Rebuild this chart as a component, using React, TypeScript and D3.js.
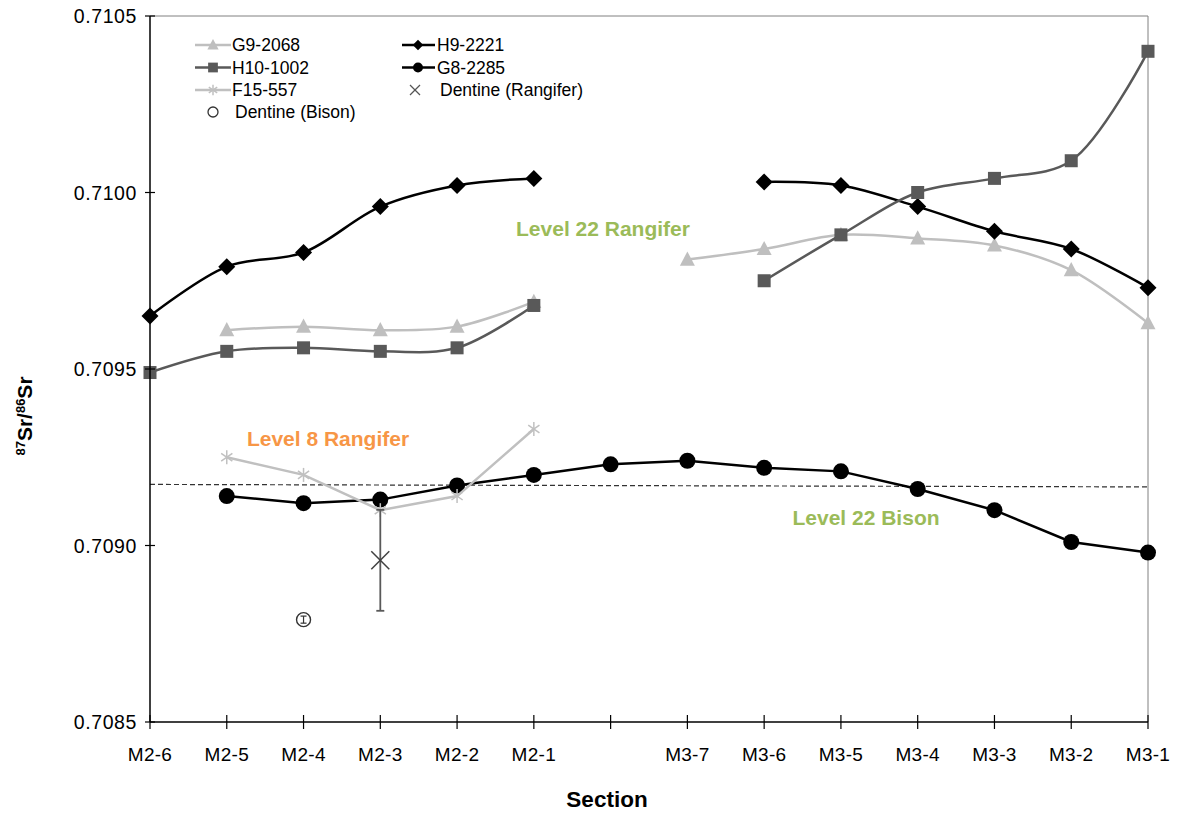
import React from 'react';
import * as d3 from 'd3';

// ---------- data ----------
const categories = ['M2-6', 'M2-5', 'M2-4', 'M2-3', 'M2-2', 'M2-1', ' ', 'M3-7', 'M3-6', 'M3-5', 'M3-4', 'M3-3', 'M3-2', 'M3-1'];
const g9_2068 = [null, 0.70961, 0.70962, 0.70961, 0.70962, 0.70969, null, 0.70981, 0.70984, 0.70988, 0.70987, 0.70985, 0.70978, 0.70963];
const h9_2221 = [0.70965, 0.70979, 0.70983, 0.70996, 0.71002, 0.71004, null, null, 0.71003, 0.71002, 0.70996, 0.70989, 0.70984, 0.70973];
const h10_1002 = [0.70949, 0.70955, 0.70956, 0.70955, 0.70956, 0.70968, null, null, 0.70975, 0.70988, 0.71000, 0.71004, 0.71009, 0.71040];
const g8_2285 = [null, 0.70914, 0.70912, 0.70913, 0.70917, 0.70920, 0.70923, 0.70924, 0.70922, 0.70921, 0.70916, 0.70910, 0.70901, 0.70898];
const f15_557 = [null, 0.70925, 0.70920, 0.70910, 0.70914, 0.70933, null, null, null, null, null, null, null, null];
const dentineBisonCat = 'M2-4';
const dentineBisonValue = 0.70879;
const dentineBisonErr = 0.00001;
const dentineRangiferCat = 'M2-3';
const dentineRangiferValue = 0.708958;
const dentineRangiferErr = 0.000143;
const bisonMeanLine = [0.709173, 0.709166];
const yTicks = [0.7085, 0.709, 0.7095, 0.71, 0.7105];

const FONT = '"Liberation Sans", Arial, sans-serif';

type Marker = 'triangle' | 'square' | 'asterisk' | 'diamond' | 'circle';

function MarkerShape({ type, x, y, size, color }: { type: Marker; x: number; y: number; size: number; color: string }) {
  const s = size;
  if (type === 'triangle') {
    const h = s * 0.9;
    return <path d={`M${x},${y - h * 0.6} L${x + s / 2},${y + h * 0.45} L${x - s / 2},${y + h * 0.45} Z`} fill={color} />;
  }
  if (type === 'square') {
    return <rect x={x - s / 2} y={y - s / 2} width={s} height={s} fill={color} />;
  }
  if (type === 'diamond') {
    return <path d={`M${x},${y - s / 2} L${x + s / 2},${y} L${x},${y + s / 2} L${x - s / 2},${y} Z`} fill={color} />;
  }
  if (type === 'circle') {
    return <circle cx={x} cy={y} r={s / 2} fill={color} />;
  }
  const r = s / 2;
  const d = r * 0.8;
  return (
    <g stroke={color} strokeWidth={1.5}>
      <line x1={x} y1={y - r} x2={x} y2={y + r} />
      <line x1={x - d} y1={y - d * 0.7} x2={x + d} y2={y + d * 0.7} />
      <line x1={x - d} y1={y + d * 0.7} x2={x + d} y2={y - d * 0.7} />
    </g>
  );
}

export default function App() {
  const width = 1183;
  const height = 814;
  const left = 150;
  const right = 1148;
  const top = 16;
  const bottom = 722;

  const x = d3.scalePoint<string>().domain(categories).range([left, right]);
  const y = d3.scaleLinear().domain([0.7085, 0.7105]).range([bottom, top]);

  const series: { name: string; values: (number | null)[]; color: string; marker: Marker; size: number; smooth: boolean; width: number }[] = [
    { name: 'G9-2068', values: g9_2068, color: '#bfbfbf', marker: 'triangle', size: 15, smooth: true, width: 2.5 },
    { name: 'H9-2221', values: h9_2221, color: '#000000', marker: 'diamond', size: 17, smooth: true, width: 2.5 },
    { name: 'H10-1002', values: h10_1002, color: '#595959', marker: 'square', size: 13, smooth: true, width: 2.5 },
    { name: 'G8-2285', values: g8_2285, color: '#000000', marker: 'circle', size: 16, smooth: false, width: 2.5 },
    { name: 'F15-557', values: f15_557, color: '#c0c0c0', marker: 'asterisk', size: 14, smooth: false, width: 2.5 },
  ];

  const mkLine = (smooth: boolean) =>
    d3
      .line<number | null>()
      .defined((d) => d !== null)
      .x((_, i) => x(categories[i]) as number)
      .y((d) => y(d as number))
      .curve(smooth ? d3.curveCatmullRom.alpha(0.5) : d3.curveLinear);

  const legendCol1 = [
    { name: 'G9-2068', s: series[0] },
    { name: 'H10-1002', s: series[2] },
    { name: 'F15-557', s: series[4] },
  ];
  const legendCol2 = [
    { name: 'H9-2221', s: series[1] },
    { name: 'G8-2285', s: series[3] },
  ];

  const rx = x(dentineRangiferCat) as number;
  const bx = x(dentineBisonCat) as number;
  const LFS = 17.5;

  return (
    <svg width={width} height={height} style={{ position: 'absolute', left: 0, top: 0, background: '#fff' }}>
      <rect x={0} y={0} width={width} height={height} fill="#fff" />
      {/* plot border */}
      <line x1={left} y1={top} x2={right} y2={top} stroke="#808080" strokeWidth={1} />
      <line x1={right} y1={top} x2={right} y2={bottom} stroke="#808080" strokeWidth={1} />

      {/* dashed reference line */}
      <line
        x1={x(categories[0])}
        x2={x(categories[categories.length - 1])}
        y1={y(bisonMeanLine[0])}
        y2={y(bisonMeanLine[1])}
        stroke="#333"
        strokeWidth={1.2}
        strokeDasharray="5,3"
      />

      {/* series */}
      {series.map((s) => (
        <g key={s.name}>
          <path d={mkLine(s.smooth)(s.values) || ''} fill="none" stroke={s.color} strokeWidth={s.width} />
          {s.values.map((v, i) =>
            v === null ? null : (
              <MarkerShape key={i} type={s.marker} x={x(categories[i]) as number} y={y(v)} size={s.size} color={s.color} />
            )
          )}
        </g>
      ))}

      {/* Dentine (Rangifer) with error bar */}
      <g stroke="#595959" strokeWidth={1.8}>
        <line x1={rx} x2={rx} y1={y(dentineRangiferValue + dentineRangiferErr)} y2={y(dentineRangiferValue - dentineRangiferErr)} />
        <line x1={rx - 4} x2={rx + 4} y1={y(dentineRangiferValue + dentineRangiferErr)} y2={y(dentineRangiferValue + dentineRangiferErr)} />
        <line x1={rx - 4} x2={rx + 4} y1={y(dentineRangiferValue - dentineRangiferErr)} y2={y(dentineRangiferValue - dentineRangiferErr)} />
        <line x1={rx - 9} x2={rx + 9} y1={y(dentineRangiferValue) - 9} y2={y(dentineRangiferValue) + 9} stroke="#404040" strokeWidth={1.5} />
        <line x1={rx - 9} x2={rx + 9} y1={y(dentineRangiferValue) + 9} y2={y(dentineRangiferValue) - 9} stroke="#404040" strokeWidth={1.5} />
      </g>

      {/* Dentine (Bison) with error bar */}
      <g stroke="#333" fill="none">
        <circle cx={bx} cy={y(dentineBisonValue)} r={7} strokeWidth={1.4} fill="#fff" />
        <line x1={bx} x2={bx} y1={y(dentineBisonValue + dentineBisonErr)} y2={y(dentineBisonValue - dentineBisonErr)} strokeWidth={1.2} />
        <line x1={bx - 3} x2={bx + 3} y1={y(dentineBisonValue + dentineBisonErr)} y2={y(dentineBisonValue + dentineBisonErr)} strokeWidth={1.2} />
        <line x1={bx - 3} x2={bx + 3} y1={y(dentineBisonValue - dentineBisonErr)} y2={y(dentineBisonValue - dentineBisonErr)} strokeWidth={1.2} />
      </g>

      {/* axes */}
      <line x1={left} y1={top} x2={left} y2={bottom} stroke="#000" strokeWidth={1.5} />
      <line x1={left} y1={bottom} x2={right} y2={bottom} stroke="#000" strokeWidth={1.5} />
      {yTicks.map((t) => (
        <g key={t}>
          <line x1={left - 5} x2={left + 5} y1={y(t)} y2={y(t)} stroke="#000" strokeWidth={1.2} />
          <text x={137} y={y(t)} dy="0.36em" textAnchor="end" fontFamily={FONT} fontSize={19.5} letterSpacing={0.6} fill="#000">
            {d3.format('.4f')(t)}
          </text>
        </g>
      ))}
      {categories.map((c) => (
        <g key={c}>
          <line x1={x(c)} x2={x(c)} y1={bottom - 7} y2={bottom + 7} stroke="#000" strokeWidth={1.2} />
          <text x={x(c)} y={761} textAnchor="middle" fontFamily={FONT} fontSize={19} letterSpacing={0.3} fill="#000">
            {c.trim()}
          </text>
        </g>
      ))}

      {/* axis titles */}
      <text x={607} y={807} textAnchor="middle" fontFamily={FONT} fontSize={22.5} fontWeight="bold">
        Section
      </text>
      <text transform="translate(32,416) rotate(-90)" textAnchor="middle" fontFamily={FONT} fontSize={21} fontWeight="bold">
        <tspan fontSize={13} dy={-7}>87</tspan>
        <tspan dy={7}>Sr/</tspan>
        <tspan fontSize={13} dy={-7}>86</tspan>
        <tspan dy={7}>Sr</tspan>
      </text>

      {/* annotations */}
      <text x={603} y={236} textAnchor="middle" fontFamily={FONT} fontSize={21} fontWeight="bold" fill="#9bbb59">
        Level 22 Rangifer
      </text>
      <text x={328} y={446} textAnchor="middle" fontFamily={FONT} fontSize={21} fontWeight="bold" fill="#f79646">
        Level 8 Rangifer
      </text>
      <text x={866} y={525} textAnchor="middle" fontFamily={FONT} fontSize={21} fontWeight="bold" fill="#9bbb59">
        Level 22 Bison
      </text>

      {/* legend */}
      {legendCol1.map((l, i) => {
        const ly = 45 + i * 22.5;
        return (
          <g key={l.name}>
            <line x1={195} x2={231} y1={ly} y2={ly} stroke={l.s.color} strokeWidth={2.5} />
            <MarkerShape type={l.s.marker} x={213} y={ly} size={l.s.size * 0.75} color={l.s.color} />
            <text x={232} y={ly} dy="0.36em" fontFamily={FONT} fontSize={LFS}>
              {l.name}
            </text>
          </g>
        );
      })}
      <g>
        <circle cx={213} cy={112} r={5} fill="none" stroke="#333" strokeWidth={1.3} />
        <text x={235} y={112} dy="0.36em" fontFamily={FONT} fontSize={LFS}>
          Dentine (Bison)
        </text>
      </g>
      {legendCol2.map((l, i) => {
        const ly = 45 + i * 22.5;
        return (
          <g key={l.name}>
            <line x1={402} x2={435} y1={ly} y2={ly} stroke={l.s.color} strokeWidth={2.5} />
            <MarkerShape type={l.s.marker} x={418} y={ly} size={l.s.size * 0.62} color={l.s.color} />
            <text x={437} y={ly} dy="0.36em" fontFamily={FONT} fontSize={LFS}>
              {l.name}
            </text>
          </g>
        );
      })}
      <g stroke="#555" strokeWidth={1.3}>
        <line x1={410} x2={420} y1={85} y2={95} />
        <line x1={410} x2={420} y1={95} y2={85} />
      </g>
      <text x={440} y={90} dy="0.36em" fontFamily={FONT} fontSize={LFS}>
        Dentine (Rangifer)
      </text>
    </svg>
  );
}
